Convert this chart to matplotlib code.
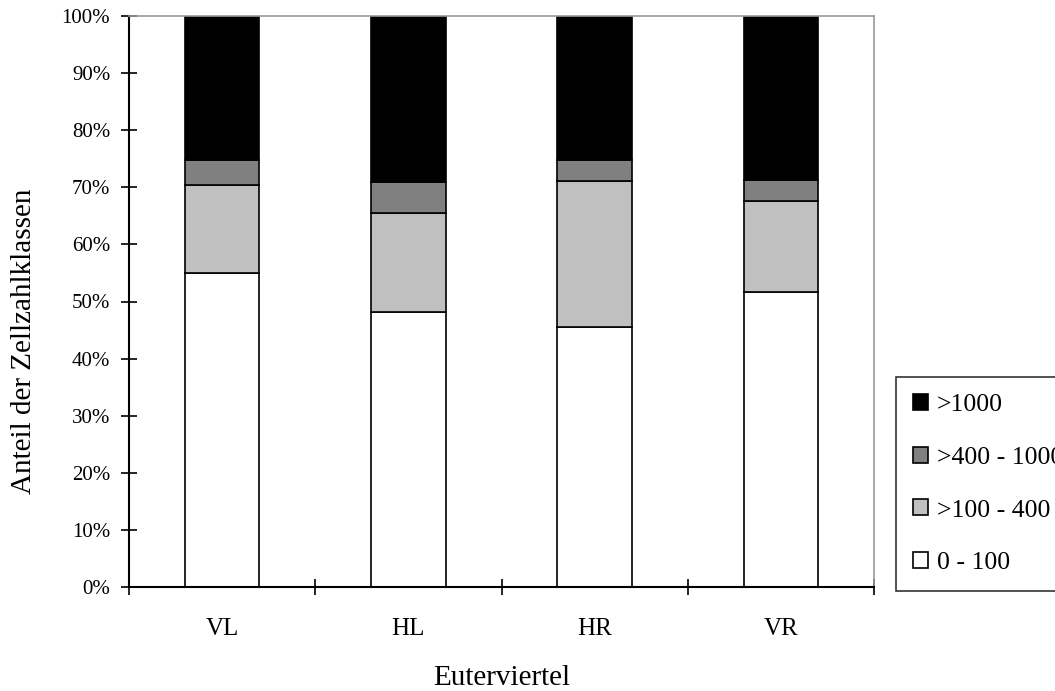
import matplotlib
matplotlib.use("Agg")
import matplotlib.pyplot as plt
import numpy as np

plt.rcParams['font.family'] = ['Liberation Serif', 'DejaVu Serif']

categories = ["VL", "HL", "HR", "VR"]
series_names = ["0 - 100", ">100 - 400", ">400 - 1000", ">1000"]
v_0_100 = [55.0, 48.2, 45.5, 51.7]
v_100_400 = [15.4, 17.3, 25.6, 15.9]
v_400_1000 = [4.4, 5.4, 3.7, 3.6]
v_1000 = [25.2, 29.1, 25.2, 28.8]
colors = ["#FFFFFF", "#C0C0C0", "#808080", "#000000"]
y_ticks = [0, 10, 20, 30, 40, 50, 60, 70, 80, 90, 100]
y_ticklabels = [f"{t}%" for t in y_ticks]

fig = plt.figure(figsize=(10.55, 6.91), dpi=100)
ax = fig.add_axes([129/1055, 1-587/691, (874-129)/1055, (587-16)/691])

x = np.arange(len(categories))
bottom = np.zeros(len(categories))
handles = []
for name, vals, c in zip(series_names, [v_0_100, v_100_400, v_400_1000, v_1000], colors):
    b = ax.bar(x, vals, width=0.4, bottom=bottom, color=c, edgecolor="black", linewidth=1.2, label=name)
    handles.append(b)
    bottom = bottom + np.array(vals)

ax.set_xlim(-0.5, len(categories) - 0.5)
ax.set_ylim(0, 100)
ax.set_yticks(y_ticks)
ax.set_yticklabels(y_ticklabels, fontsize=15)
ax.set_xticks(x)
ax.set_xticklabels(categories, fontsize=18)
ax.set_xticks(np.arange(len(categories) + 1) - 0.5, minor=True)
ax.tick_params(axis='x', which='major', length=0, pad=22)
ax.tick_params(axis='x', which='minor', length=12, width=1.2, direction='inout', color='black')
ax.tick_params(axis='y', which='major', length=11, width=1.2, direction='inout', pad=8)

for s in ['left', 'bottom']:
    ax.spines[s].set_color('black')
    ax.spines[s].set_linewidth(1.5)
for s in ['top', 'right']:
    ax.spines[s].set_color('#999999')
    ax.spines[s].set_linewidth(1.2)

ax.set_xlabel("Euterviertel", fontsize=21, labelpad=18)
ax.set_ylabel("Anteil der Zellzahlklassen", fontsize=21)
ax.yaxis.set_label_coords(-0.124, 0.43)

leg = fig.legend(handles[::-1], series_names[::-1], loc='upper left',
                 bbox_to_anchor=(896/1055, 1-377/691), bbox_transform=fig.transFigure,
                 fontsize=18.5, frameon=True, fancybox=False, edgecolor='black',
                 handlelength=0.58, handleheight=0.58, handletextpad=0.35,
                 labelspacing=1.2, borderpad=0.65, borderaxespad=0)
leg.get_frame().set_linewidth(1.2)

fig.savefig("out.png", dpi=100)
